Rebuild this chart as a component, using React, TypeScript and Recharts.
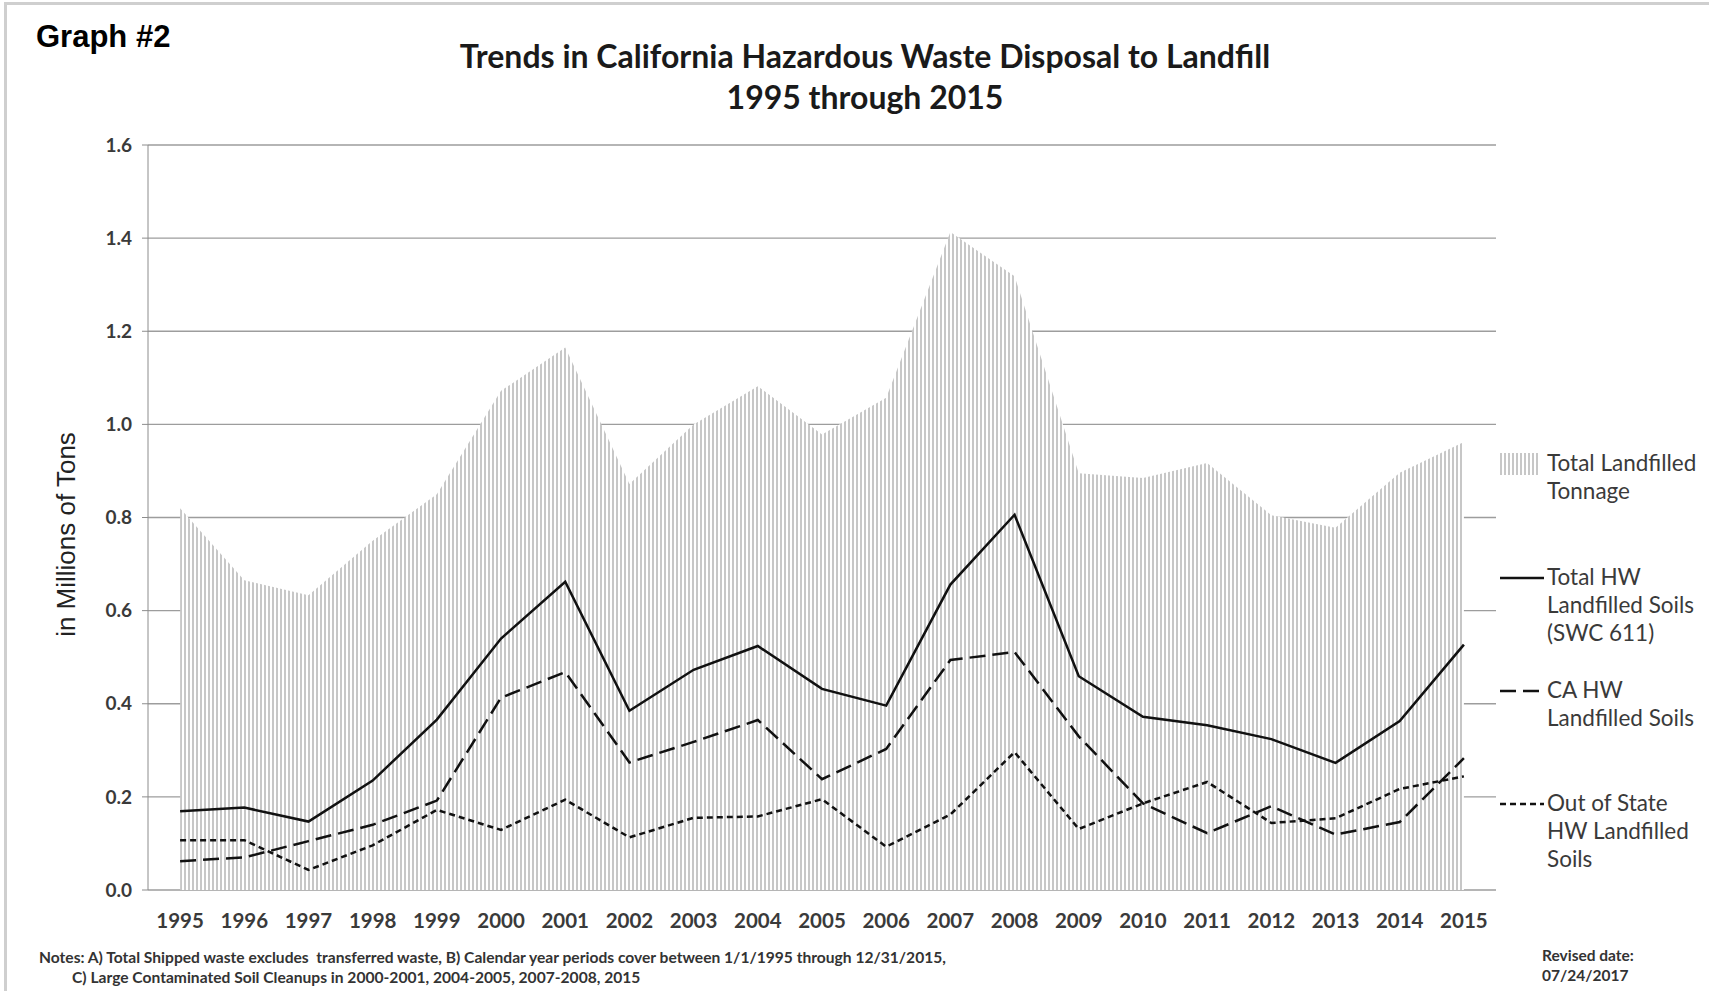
import { Area, CartesianGrid, ComposedChart, Legend, Line, XAxis, YAxis } from 'recharts';

const years = [
  '1995', '1996', '1997', '1998', '1999', '2000', '2001', '2002', '2003', '2004', '2005',
  '2006', '2007', '2008', '2009', '2010', '2011', '2012', '2013', '2014', '2015'
];

// millions of tons
const totalTonnage = [
  0.82, 0.665, 0.633, 0.75, 0.85, 1.072, 1.165, 0.872, 1.0, 1.082, 0.978,
  1.057, 1.413, 1.318, 0.895, 0.885, 0.917, 0.805, 0.778, 0.896, 0.962
];
const totalHwSoils = [
  0.169, 0.177, 0.147, 0.235, 0.366, 0.54, 0.662, 0.385, 0.473, 0.524, 0.432,
  0.396, 0.656, 0.806, 0.459, 0.372, 0.354, 0.324, 0.273, 0.363, 0.527
];
const caHwSoils = [
  0.062, 0.07, 0.105, 0.14, 0.192, 0.413, 0.468, 0.274, 0.318, 0.365, 0.238,
  0.303, 0.494, 0.511, 0.33, 0.186, 0.122, 0.18, 0.119, 0.146, 0.283
];
const outOfStateSoils = [
  0.107, 0.107, 0.043, 0.096, 0.172, 0.129, 0.194, 0.113, 0.155, 0.158, 0.195,
  0.093, 0.162, 0.296, 0.131, 0.186, 0.232, 0.144, 0.154, 0.217, 0.244
];

const yTicks = [0, 0.2, 0.4, 0.6, 0.8, 1.0, 1.2, 1.4, 1.6];
const boundaryTicks = Array.from({ length: years.length + 1 }, (_, i) => i);

const data = years.map((year, i) => ({
  year,
  tonnage: totalTonnage[i],
  totalHw: totalHwSoils[i],
  caHw: caHwSoils[i],
  outOfState: outOfStateSoils[i]
}));

const FONT = 'Lato, "Open Sans", sans-serif';
const AXIS_GREY = '#8c8c8c';
const TEXT_GREY = '#3a3a3a';

const legendEntries = [
  { key: 'tonnage', lines: ['Total Landfilled', 'Tonnage'], kind: 'stripes', top: 450 },
  { key: 'totalHw', lines: ['Total HW', 'Landfilled Soils', '(SWC 611)'], kind: 'line', dash: undefined, top: 564 },
  { key: 'caHw', lines: ['CA HW', 'Landfilled Soils'], kind: 'line', dash: '16 7', top: 677 },
  { key: 'outOfState', lines: ['Out of State', 'HW Landfilled', 'Soils'], kind: 'line', dash: '6 4', top: 790 }
];

function ChartLegend() {
  return (
    <div style={{ position: 'relative', width: 205, height: 440, fontFamily: FONT }}>
      {legendEntries.map(entry => (
        <div key={entry.key} style={{ position: 'absolute', left: 0, top: entry.top - 450 }}>
          <svg width={46} height={28} style={{ position: 'absolute', left: 0, top: 0 }}>
            <defs>
              <pattern id="legendStripes" width="4" height="8" patternUnits="userSpaceOnUse">
                <rect width="4" height="8" fill="#fff" />
                <line x1="1" y1="0" x2="1" y2="8" stroke="#8f8f8f" strokeWidth="1" />
              </pattern>
            </defs>
            {entry.kind === 'stripes' ? (
              <rect x={0} y={3} width={40} height={22} fill="url(#legendStripes)" />
            ) : (
              <line x1={0} y1={14} x2={44} y2={14} stroke="#111" strokeWidth={2.5} strokeDasharray={entry.dash} />
            )}
          </svg>
          <div style={{ position: 'absolute', left: 47, top: -1, fontSize: 22.5, lineHeight: '28px', color: TEXT_GREY, whiteSpace: 'nowrap' }}>
            {entry.lines.map(l => (
              <div key={l}>{l}</div>
            ))}
          </div>
        </div>
      ))}
    </div>
  );
}

export default function App() {
  return (
    <div style={{ position: 'relative', width: 1709, height: 991, background: '#fff', fontFamily: FONT }}>
      <style>{'body{margin:0}'}</style>
      <div
        style={{
          position: 'absolute', left: 4, top: 2, width: 1705, height: 986,
          borderTop: '3px solid #cfcfcf', borderLeft: '3px solid #cfcfcf', borderBottom: '3px solid #d8d8d8'
        }}
      />
      <div style={{ position: 'absolute', left: 36, top: 19, fontFamily: '"Liberation Sans", Arial, sans-serif', fontWeight: 700, fontSize: 31, color: '#000' }}>
        Graph #2
      </div>
      <div style={{ position: 'absolute', left: 365, width: 1000, top: 35, textAlign: 'center', fontWeight: 700, fontSize: 32, lineHeight: '41px', color: '#1a1a1a' }}>
        <div>Trends in California Hazardous Waste Disposal to Landfill</div>
        <div>1995 through 2015</div>
      </div>

      <ComposedChart
        width={1709}
        height={991}
        data={data}
        margin={{ top: 145, right: 213, bottom: 61, left: 0 }}
        style={{ position: 'absolute', left: 0, top: 0 }}
      >
        <defs>
          <pattern id="vStripes" width="4" height="8" patternUnits="userSpaceOnUse">
            <rect width="4" height="8" fill="#fff" />
            <line x1="1" y1="0" x2="1" y2="8" stroke="#8f8f8f" strokeWidth="1" />
          </pattern>
        </defs>
        <CartesianGrid vertical={false} stroke="#9d9d9d" strokeWidth={1.3} />
        <XAxis
          xAxisId="bounds"
          type="number"
          domain={[0, years.length]}
          ticks={boundaryTicks}
          tick={false}
          height={0}
          stroke={AXIS_GREY}
          tickSize={6}
          allowDataOverflow
        />
        <XAxis
          dataKey="year"
          scale="band"
          axisLine={false}
          tickLine={false}
          height={40}
          tickSize={6}
          tickMargin={17}
          interval={0}
          tick={{ fill: TEXT_GREY, fontSize: 20.5, fontWeight: 700, fontFamily: FONT }}
        />
        <YAxis
          domain={[0, 1.6]}
          ticks={yTicks}
          width={148}
          stroke={AXIS_GREY}
          tickSize={6}
          tickMargin={10}
          tickFormatter={v => v.toFixed(1)}
          tick={{ fill: TEXT_GREY, fontSize: 19, fontWeight: 700, fontFamily: FONT }}
          label={({ viewBox }) => {
            const { x, y, height } = viewBox;
            const cx = x + 75;
            const cy = y + height / 2 + 17;
            return (
              <text
                x={cx}
                y={cy}
                transform={`rotate(-90, ${cx}, ${cy})`}
                textAnchor="middle"
                fontSize={26}
                fill="#222"
                fontFamily='"Liberation Sans", Arial, sans-serif'
              >
                in Millions of Tons
              </text>
            );
          }}
        />
        <Area
          dataKey="tonnage"
          type="linear"
          fill="url(#vStripes)"
          fillOpacity={1}
          stroke="none"
          isAnimationActive={false}
        />
        <Line dataKey="totalHw" type="linear" stroke="#111" strokeWidth={2.5} dot={false} isAnimationActive={false} />
        <Line dataKey="caHw" type="linear" stroke="#111" strokeWidth={2.5} strokeDasharray="16 7" dot={false} isAnimationActive={false} />
        <Line dataKey="outOfState" type="linear" stroke="#111" strokeWidth={2.5} strokeDasharray="6 4" dot={false} isAnimationActive={false} />
        <Legend
          layout="horizontal"
          verticalAlign="middle"
          align="center"
          wrapperStyle={{ left: 1500, top: 450, width: 205 }}
          content={() => <ChartLegend />}
        />
      </ComposedChart>

      <div style={{ position: 'absolute', left: 39, top: 947, fontSize: 15.6, fontWeight: 700, color: '#333', lineHeight: '20px' }}>
        <div>Notes: A) Total Shipped waste excludes&nbsp; transferred waste, B) Calendar year periods cover between 1/1/1995 through 12/31/2015,</div>
        <div style={{ paddingLeft: 33 }}>C) Large Contaminated Soil Cleanups in 2000-2001, 2004-2005, 2007-2008, 2015</div>
      </div>
      <div style={{ position: 'absolute', left: 1542, top: 945, fontSize: 15.5, fontWeight: 700, color: '#333', lineHeight: '20px' }}>
        <div>Revised date:</div>
        <div>07/24/2017</div>
      </div>
    </div>
  );
}
